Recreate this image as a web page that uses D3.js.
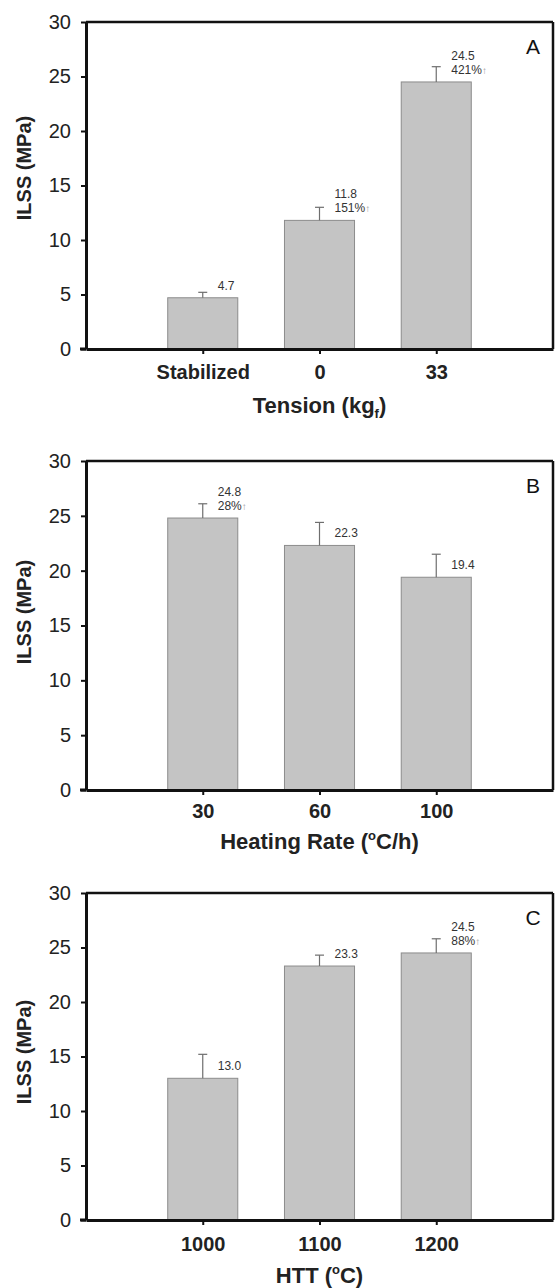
<!DOCTYPE html>
<html>
<head>
<meta charset="utf-8">
<script src="https://cdn.jsdelivr.net/npm/d3@7"></script>
<style>
  html, body { margin: 0; padding: 0; background: #fff; }
  svg { display: block; }
</style>
</head>
<body>
<svg id="chart" width="555" height="1288"></svg>
<script>
// ILSS of the composites for three processing variables (A: tension, B: heating rate, C: HTT)
const categoriesA = ["Stabilized", "0", "33"];
const valuesA = [4.7, 11.8, 24.5];
const errorsA = [0.5, 1.2, 1.4];
const increaseA = ["", "151%", "421%"];

const categoriesB = ["30", "60", "100"];
const valuesB = [24.8, 22.3, 19.4];
const errorsB = [1.3, 2.1, 2.1];
const increaseB = ["28%", "", ""];

const categoriesC = ["1000", "1100", "1200"];
const valuesC = [13.0, 23.3, 24.5];
const errorsC = [2.2, 1.0, 1.3];
const increaseC = ["", "", "88%"];

const yTicks = [0, 5, 10, 15, 20, 25, 30];
const yLabel = "ILSS (MPa)";

const FONT = "'Liberation Sans', Arial, Helvetica, sans-serif";
const svg = d3.select("#chart");

const panels = [
  { letter: "A", cats: categoriesA, vals: valuesA, errs: errorsA, inc: increaseA,
    top: 22, bottom: 349, tickDy: 30, titleDy: 64, yTitleY: 168,
    title: [{ t: "Tension (kg" }, { t: "f", sub: true }, { t: ")" }] },
  { letter: "B", cats: categoriesB, vals: valuesB, errs: errorsB, inc: increaseB,
    top: 461, bottom: 790, tickDy: 28, titleDy: 59, yTitleY: 612,
    title: [{ t: "Heating Rate (" }, { t: "o", sup: true }, { t: "C/h)" }] },
  { letter: "C", cats: categoriesC, vals: valuesC, errs: errorsC, inc: increaseC,
    top: 893, bottom: 1220, tickDy: 31, titleDy: 63, yTitleY: 1052,
    title: [{ t: "HTT (" }, { t: "o", sup: true }, { t: "C)" }] }
];

const left = 86, right = 553;

panels.forEach(p => {
  const g = svg.append("g");
  const x = d3.scaleLinear().domain([0, 4]).range([left, right]);
  const y = d3.scaleLinear().domain([0, 30]).range([p.bottom, p.top]);
  const barW = x(0.6) - x(0);

  // bars
  g.selectAll("rect.bar").data(p.vals).enter().append("rect")
    .attr("class", "bar")
    .attr("x", (d, i) => x(i + 1) - barW / 2)
    .attr("y", d => y(d))
    .attr("width", barW)
    .attr("height", d => y(0) - y(d))
    .attr("fill", "#c4c4c4")
    .attr("stroke", "#8c8c8c")
    .attr("stroke-width", 1);

  // upper error bars with caps
  const eb = g.selectAll("g.err").data(p.vals).enter().append("g").attr("class", "err");
  eb.append("line")
    .attr("x1", (d, i) => x(i + 1)).attr("x2", (d, i) => x(i + 1))
    .attr("y1", d => y(d)).attr("y2", (d, i) => y(d + p.errs[i]))
    .attr("stroke", "#6e6e6e").attr("stroke-width", 1.2);
  eb.append("line")
    .attr("x1", (d, i) => x(i + 1) - 4.5).attr("x2", (d, i) => x(i + 1) + 4.5)
    .attr("y1", (d, i) => y(d + p.errs[i])).attr("y2", (d, i) => y(d + p.errs[i]))
    .attr("stroke", "#6e6e6e").attr("stroke-width", 1.2);

  // value and increase labels
  p.vals.forEach((v, i) => {
    const lx = x(i + 1) + 15;
    const base = y(v) - 8;
    const lines = p.inc[i] ? [v.toFixed(1), p.inc[i]] : [v.toFixed(1)];
    lines.forEach((s, k) => {
      const t = g.append("text")
        .attr("x", lx)
        .attr("y", base - (lines.length - 1 - k) * 14)
        .attr("font-family", FONT).attr("font-size", 12)
        .attr("fill", "#333");
      t.append("tspan").text(s);
      if (k === 1) t.append("tspan").text("↑").attr("fill", "#999").attr("font-size", 10);
    });
  });

  // y axis
  const ya = g.append("g").attr("transform", `translate(${left},0)`)
    .call(d3.axisLeft(y).tickValues(yTicks).tickSize(5).tickSizeOuter(0).tickPadding(10));
  ya.select(".domain").attr("stroke", "#111").attr("stroke-width", 3);
  ya.selectAll(".tick line").attr("stroke", "#111").attr("stroke-width", 2);
  ya.selectAll(".tick text").attr("font-family", FONT).attr("font-size", 20).attr("fill", "#222");

  // x axis
  const xa = g.append("g").attr("transform", `translate(0,${p.bottom})`)
    .call(d3.axisBottom(x).tickValues([1, 2, 3]).tickFormat(d => p.cats[d - 1])
      .tickSize(5).tickSizeOuter(0).tickPadding(0));
  xa.select(".domain").attr("stroke", "#111").attr("stroke-width", 3);
  xa.selectAll(".tick line").attr("stroke", "#111").attr("stroke-width", 2);
  xa.selectAll(".tick text")
    .attr("font-family", FONT).attr("font-size", 20).attr("font-weight", "bold")
    .attr("fill", "#222").attr("dy", null).attr("y", p.tickDy);

  // short nub of each axis past the origin
  g.append("line").attr("x1", left - 6).attr("x2", left).attr("y1", p.bottom).attr("y2", p.bottom)
    .attr("stroke", "#111").attr("stroke-width", 3);

  // frame: top and right edges
  g.append("line").attr("x1", left).attr("x2", right).attr("y1", p.top).attr("y2", p.top)
    .attr("stroke", "#111").attr("stroke-width", 2.5);
  g.append("line").attr("x1", right).attr("x2", right).attr("y1", p.top).attr("y2", p.bottom)
    .attr("stroke", "#111").attr("stroke-width", 2.5);

  // panel letter
  g.append("text").attr("x", 533).attr("y", p.top + 32)
    .attr("text-anchor", "middle")
    .attr("font-family", FONT).attr("font-size", 21).attr("fill", "#111")
    .text(p.letter);

  // x axis title with sub/superscripts
  const xt = g.append("text")
    .attr("x", x(2)).attr("y", p.bottom + p.titleDy)
    .attr("text-anchor", "middle")
    .attr("font-family", FONT).attr("font-size", 22).attr("font-weight", "bold")
    .attr("fill", "#222");
  p.title.forEach(part => {
    const ts = xt.append("tspan").text(part.t);
    if (part.sub) ts.attr("font-size", 13).attr("dy", 5);
    else if (part.sup) ts.attr("font-size", 13).attr("dy", -9);
    else ts.attr("dy", 0);
  });
  // restore baseline after sub/superscript
  xt.selectAll("tspan").each(function (d, i, nodes) {
    if (i > 0) {
      const prev = p.title[i - 1];
      if (prev.sub) d3.select(this).attr("dy", -5);
      if (prev.sup) d3.select(this).attr("dy", 9);
    }
  });

  // y axis title
  g.append("text")
    .attr("transform", `translate(31,${p.yTitleY}) rotate(-90)`)
    .attr("text-anchor", "middle")
    .attr("font-family", FONT).attr("font-size", 20).attr("font-weight", "bold")
    .attr("fill", "#222")
    .text(yLabel);
});
</script>
</body>
</html>
